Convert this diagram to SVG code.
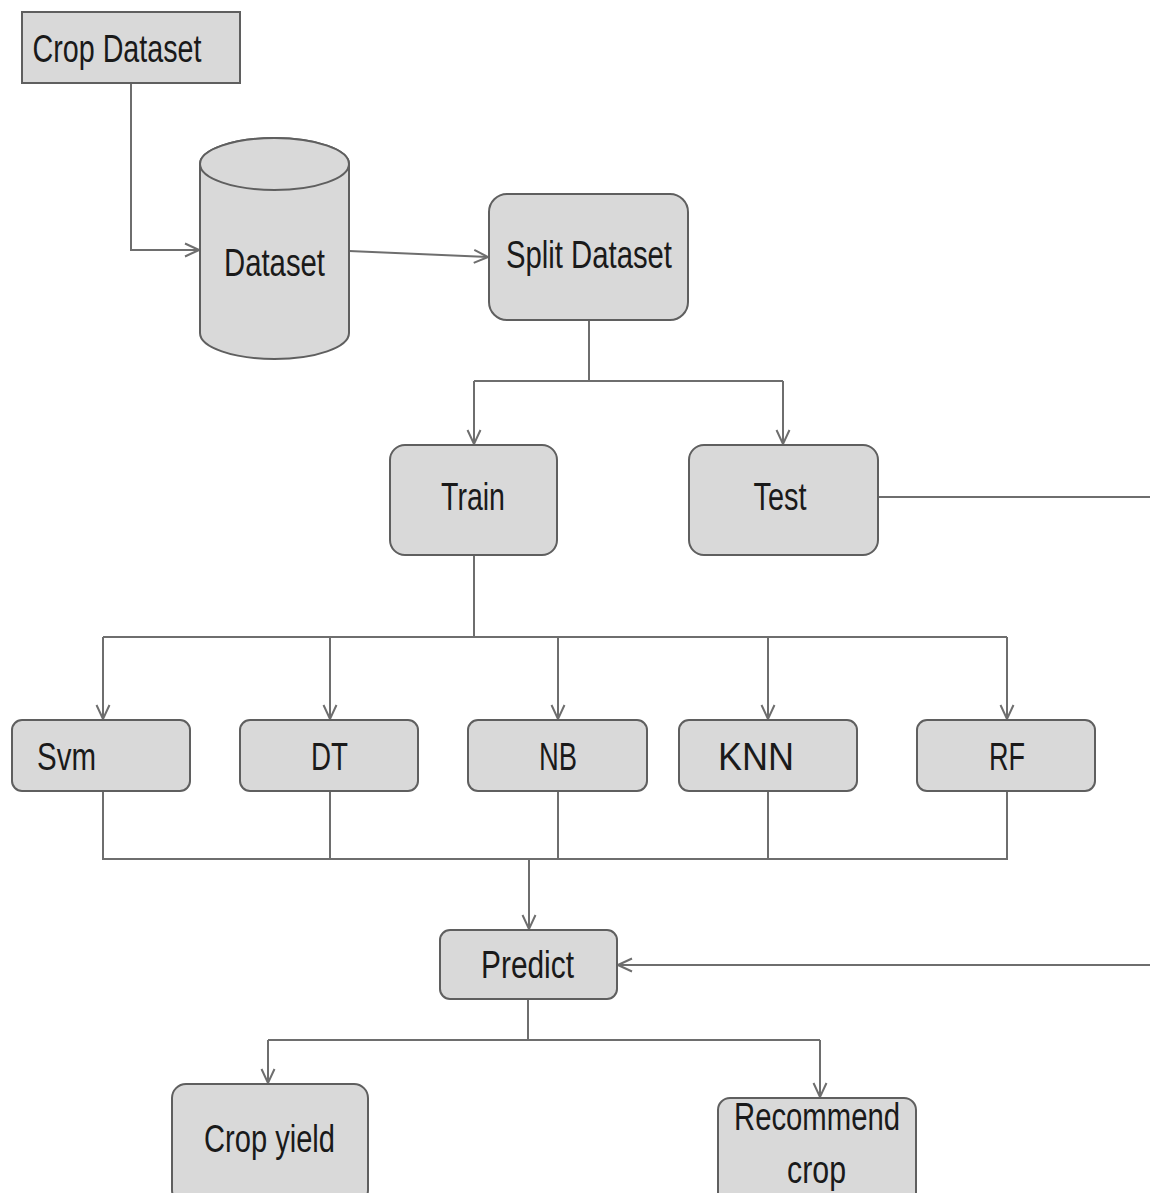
<svg xmlns="http://www.w3.org/2000/svg" width="1150" height="1193" viewBox="0 0 1150 1193">
<style>
.n{fill:#d9d9d9;stroke:#5f5f5f;stroke-width:2}
.t{font-family:"Liberation Sans",Arial,sans-serif;font-size:38px;fill:#1a1a1a;text-anchor:middle}
.c{fill:none;stroke:#6e6e6e;stroke-width:2}
</style>
<defs>
<marker id="a" viewBox="0 0 16 16" refX="15" refY="8" markerWidth="16" markerHeight="16" markerUnits="userSpaceOnUse" orient="auto">
<polyline points="1,1.5 15,8 1,14.5" fill="none" stroke="#6e6e6e" stroke-width="2"/>
</marker>
</defs>
<rect width="1150" height="1193" fill="#ffffff"/>
<g id="connectors">
<polyline class="c" points="131,83 131,250 199,250" marker-end="url(#a)"/>
<line class="c" x1="349" y1="251" x2="488" y2="257" marker-end="url(#a)"/>
<polyline class="c" points="589,320 589,381"/>
<polyline class="c" points="474,381 783,381"/>
<line class="c" x1="474" y1="381" x2="474" y2="444" marker-end="url(#a)"/>
<line class="c" x1="783" y1="381" x2="783" y2="444" marker-end="url(#a)"/>
<polyline class="c" points="474,555 474,637"/>
<polyline class="c" points="103,637 1007,637"/>
<line class="c" x1="103" y1="637" x2="103" y2="719" marker-end="url(#a)"/>
<line class="c" x1="330" y1="637" x2="330" y2="719" marker-end="url(#a)"/>
<line class="c" x1="558" y1="637" x2="558" y2="719" marker-end="url(#a)"/>
<line class="c" x1="768" y1="637" x2="768" y2="719" marker-end="url(#a)"/>
<line class="c" x1="1007" y1="637" x2="1007" y2="719" marker-end="url(#a)"/>
<polyline class="c" points="103,791 103,859 1007,859 1007,791"/>
<line class="c" x1="330" y1="791" x2="330" y2="859"/>
<line class="c" x1="558" y1="791" x2="558" y2="859"/>
<line class="c" x1="768" y1="791" x2="768" y2="859"/>
<line class="c" x1="529" y1="859" x2="529" y2="929" marker-end="url(#a)"/>
<line class="c" x1="878" y1="497" x2="1150" y2="497"/>
<line class="c" x1="1150" y1="965" x2="618" y2="965" marker-end="url(#a)"/>
<polyline class="c" points="528,999 528,1040"/>
<polyline class="c" points="268,1040 820,1040"/>
<line class="c" x1="268" y1="1040" x2="268" y2="1083" marker-end="url(#a)"/>
<line class="c" x1="820" y1="1040" x2="820" y2="1097" marker-end="url(#a)"/>
</g>
<g id="crop-dataset">
<rect class="n" x="22" y="12" width="218" height="71"/>
<text class="t" x="117" y="62" textLength="169" lengthAdjust="spacingAndGlyphs">Crop Dataset</text>
</g>
<g id="dataset">
<path class="n" d="M200,164 L200,333 A74.5,26 0 0 0 349,333 L349,164 A74.5,26 0 0 0 200,164 Z"/>
<ellipse class="n" cx="274.5" cy="164" rx="74.5" ry="26"/>
<text class="t" x="274.5" y="276" textLength="101" lengthAdjust="spacingAndGlyphs">Dataset</text>
</g>
<g id="split-dataset">
<rect class="n" x="489" y="194" width="199" height="126" rx="18"/>
<text class="t" x="589" y="268" textLength="166" lengthAdjust="spacingAndGlyphs">Split Dataset</text>
</g>
<g id="train">
<rect class="n" x="390" y="445" width="167" height="110" rx="15"/>
<text class="t" x="473" y="510" textLength="64" lengthAdjust="spacingAndGlyphs">Train</text>
</g>
<g id="test">
<rect class="n" x="689" y="445" width="189" height="110" rx="15"/>
<text class="t" x="780" y="510" textLength="53" lengthAdjust="spacingAndGlyphs">Test</text>
</g>
<g id="svm">
<rect class="n" x="12" y="720" width="178" height="71" rx="10"/>
<text class="t" x="66.5" y="770" textLength="59" lengthAdjust="spacingAndGlyphs">Svm</text>
</g>
<g id="dt">
<rect class="n" x="240" y="720" width="178" height="71" rx="10"/>
<text class="t" x="329.5" y="770" textLength="37" lengthAdjust="spacingAndGlyphs">DT</text>
</g>
<g id="nb">
<rect class="n" x="468" y="720" width="179" height="71" rx="10"/>
<text class="t" x="558" y="770" textLength="38" lengthAdjust="spacingAndGlyphs">NB</text>
</g>
<g id="knn">
<rect class="n" x="679" y="720" width="178" height="71" rx="10"/>
<text class="t" x="756" y="770" textLength="76" lengthAdjust="spacingAndGlyphs">KNN</text>
</g>
<g id="rf">
<rect class="n" x="917" y="720" width="178" height="71" rx="10"/>
<text class="t" x="1007" y="770" textLength="36" lengthAdjust="spacingAndGlyphs">RF</text>
</g>
<g id="predict">
<rect class="n" x="440" y="930" width="177" height="69" rx="10"/>
<text class="t" x="527.5" y="978" textLength="93" lengthAdjust="spacingAndGlyphs">Predict</text>
</g>
<g id="crop-yield">
<rect class="n" x="172" y="1084" width="196" height="120" rx="14"/>
<text class="t" x="269.5" y="1152" textLength="131" lengthAdjust="spacingAndGlyphs">Crop yield</text>
</g>
<g id="recommend-crop">
<rect class="n" x="718" y="1098" width="198" height="110" rx="12"/>
<text class="t" x="817" y="1130" textLength="166" lengthAdjust="spacingAndGlyphs">Recommend</text>
<text class="t" x="816.5" y="1183" textLength="59" lengthAdjust="spacingAndGlyphs">crop</text>
</g>
</svg>
